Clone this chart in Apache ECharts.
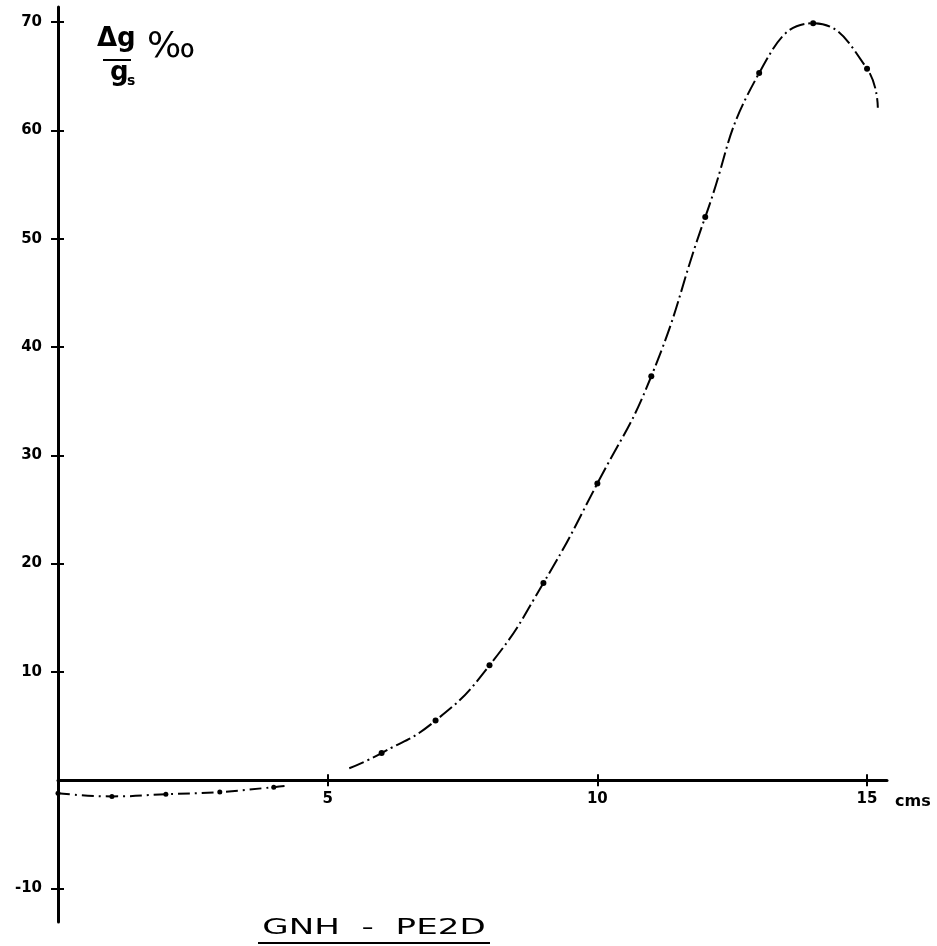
<!DOCTYPE html>
<html>
<head>
<meta charset="utf-8">
<script src="https://cdn.jsdelivr.net/npm/echarts@6/dist/echarts.min.js"></script>
<style>html,body{margin:0;padding:0;background:#fff;}#c{width:937px;height:946px;}</style>
</head>
<body>
<div id="c"></div>
<script>
// Data
const negX = [0, 1, 2, 3, 4, 4.2];
const negY = [-1.2, -1.5, -1.3, -1.1, -0.65, -0.55];
const posX = [5.4, 6, 7, 8, 9, 10, 11, 12, 13, 14, 15, 15.2];
const posY = [1.1, 2.5, 5.5, 10.6, 18.2, 27.4, 37.3, 52.0, 65.3, 69.9, 65.7, 62.1];
const xTicks = [5, 10, 15];
const yTicks = [-10, 10, 20, 30, 40, 50, 60, 70];
const titleText = 'GNH  -  PE2D';
const xUnit = 'cms';

function toData(xs, ys) {
  return xs.map((x, i) => {
    const end = (i === xs.length - 1) || (xs === posX && i === 0);
    return end ? { value: [x, ys[i]], symbol: 'none' } : [x, ys[i]];
  });
}
const negData = toData(negX, negY);
const posData = toData(posX, posY);
const FONT = 'DejaVu Sans';

const Y_MIN = -13.1, Y_MAX = 71.4, GRID_TOP = 7, GRID_BOTTOM = 24, H = 946;
const plotH = H - GRID_TOP - GRID_BOTTOM;
const zeroOffset = -(plotH * (0 - Y_MIN) / (Y_MAX - Y_MIN));
const TICK_IN = 6;

const chart = echarts.init(document.getElementById('c'));
const tickStyle = { color: '#000', width: 2 };
chart.setOption({
  animation: false,
  grid: { left: 58, right: 50, top: GRID_TOP, bottom: GRID_BOTTOM, containLabel: false },
  xAxis: [
    {
      type: 'value', min: 0, max: 15.37, position: 'bottom', offset: zeroOffset,
      axisLine: { onZero: false, lineStyle: { color: '#000', width: 3 } },
      splitLine: { show: false },
      axisTick: { show: true, length: 6, customValues: xTicks, lineStyle: tickStyle },
      axisLabel: { customValues: xTicks, color: '#000', fontSize: 15, fontFamily: FONT, fontWeight: 'bold', margin: 11 },
      name: xUnit, nameLocation: 'end', nameGap: 8,
      nameTextStyle: { color: '#000', fontSize: 16, fontFamily: FONT, fontWeight: 'bold', verticalAlign: 'top', padding: [14, 0, 0, 0] }
    },
    {
      type: 'value', min: 0, max: 15.37, position: 'bottom', offset: zeroOffset - TICK_IN,
      axisLine: { show: false, onZero: false },
      splitLine: { show: false },
      axisTick: { show: true, length: TICK_IN, customValues: xTicks, lineStyle: tickStyle },
      axisLabel: { show: false }
    }
  ],
  yAxis: [
    {
      type: 'value', min: Y_MIN, max: Y_MAX, position: 'left', offset: 0,
      axisLine: { show: true, onZero: false, lineStyle: { color: '#000', width: 3 } },
      splitLine: { show: false },
      axisTick: { show: true, length: 7, customValues: yTicks, lineStyle: tickStyle },
      axisLabel: { customValues: yTicks, color: '#000', fontSize: 15, fontFamily: FONT, fontWeight: 'bold', margin: 16 }
    },
    {
      type: 'value', min: Y_MIN, max: Y_MAX, position: 'left', offset: -TICK_IN,
      axisLine: { show: false, onZero: false },
      splitLine: { show: false },
      axisTick: { show: true, length: TICK_IN, customValues: yTicks, lineStyle: tickStyle },
      axisLabel: { show: false }
    }
  ],
  series: [
    {
      type: 'line', data: negData, smooth: 0.5,
      symbol: 'circle', symbolSize: 5, showSymbol: true,
      itemStyle: { color: '#000' },
      lineStyle: { color: '#000', width: 2, type: [12, 5, 2, 5] }
    },
    {
      type: 'line', data: posData, smooth: 0.5,
      symbol: 'circle', symbolSize: 6, showSymbol: true,
      itemStyle: { color: '#000' },
      lineStyle: { color: '#000', width: 2, type: [16, 4, 2, 4] }
    },
    {
      type: 'line', xAxisIndex: 1, yAxisIndex: 1, data: [], silent: true, showSymbol: false
    }
  ],
  graphic: [
    { type: 'text', left: 97, top: 26, style: { text: 'Δg', fontSize: 26, fontFamily: FONT, fontWeight: 'bold', fill: '#000' } },
    { type: 'line', shape: { x1: 103, y1: 60, x2: 131, y2: 60 }, style: { stroke: '#000', lineWidth: 2 } },
    { type: 'text', left: 110, top: 60, style: { text: 'g', fontSize: 26, fontFamily: FONT, fontWeight: 'bold', fill: '#000' } },
    { type: 'text', left: 127, top: 74, style: { text: 's', fontSize: 14, fontFamily: FONT, fontWeight: 'bold', fill: '#000' } },
    { type: 'text', left: 147, top: 30, style: { text: '‰', fontSize: 36, fontFamily: FONT, fill: '#000' } },
    { type: 'text', x: 374, y: 928, scaleX: 1.55, style: { text: titleText, fontSize: 22, fontFamily: FONT, fill: '#000', textAlign: 'center', textVerticalAlign: 'middle' } },
    { type: 'line', shape: { x1: 258, y1: 943, x2: 490, y2: 943 }, style: { stroke: '#000', lineWidth: 2 } }
  ]
});
</script>
</body>
</html>
